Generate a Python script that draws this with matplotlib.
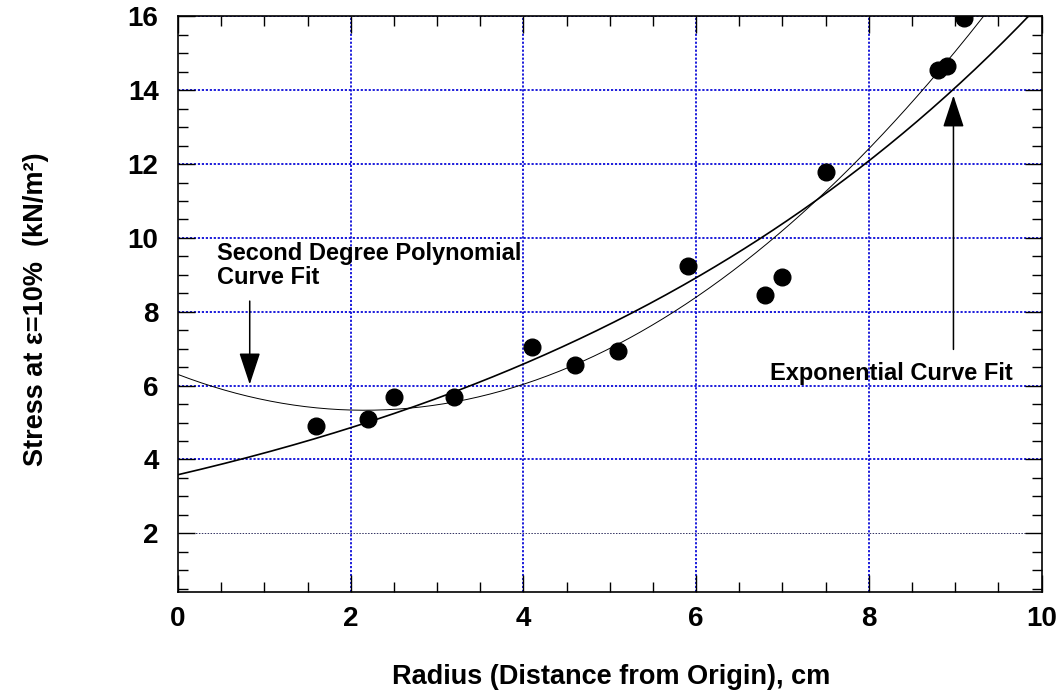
import numpy as np
import matplotlib
matplotlib.use("Agg")
import matplotlib.pyplot as plt
from matplotlib.ticker import MultipleLocator

radius = [1.6, 2.2, 2.5, 3.2, 4.1, 4.6, 5.1, 5.9, 6.8, 7.0, 7.5, 8.8, 8.9, 9.1]
stress = [4.9, 5.1, 5.7, 5.7, 7.05, 6.55, 6.95, 9.25, 8.45, 8.95, 11.8, 14.55, 14.65, 15.95]

x_ticks = [0, 2, 4, 6, 8, 10]
y_ticks = [2, 4, 6, 8, 10, 12, 14, 16]

poly_label = "Second Degree Polynomial\nCurve Fit"
exp_label = "Exponential Curve Fit"
x_title = "Radius (Distance from Origin), cm"
y_title = "Stress at \u03b5=10%  (kN/m\u00b2)"

plt.rcParams['font.family'] = ['Liberation Sans', 'DejaVu Sans']
plt.rcParams['font.weight'] = 'bold'

fig = plt.figure(figsize=(10.63, 6.98), dpi=100)
ax = fig.add_axes([0.1675, 0.1514, 0.8123, 0.8250])

xs = np.array(radius)
ys = np.array(stress)

# fitted curves (least squares on the points)
c2, c1, c0 = np.polyfit(xs, ys, 2)
b, ln_a = np.polyfit(xs, np.log(ys), 1)
xx = np.linspace(0, 10, 300)
ax.plot(xx, c0 + c1 * xx + c2 * xx ** 2, color='black', lw=0.7, zorder=3)
ax.plot(xx, np.exp(ln_a) * np.exp(b * xx), color='black', lw=1.2, zorder=3)

ax.plot(xs, ys, 'o', color='black', ms=12, zorder=4)

# grid
grid_blue = '#0a0ad8'
for gx in x_ticks[1:-1]:
    ax.axvline(gx, color=grid_blue, lw=1.3, ls=(0, (1.2, 1.0)), zorder=1)
for gy in y_ticks:
    if gy == 2:
        ax.axhline(gy, color='#303060', lw=0.7, ls=(0, (1.5, 1.5)), zorder=1)
    else:
        ax.axhline(gy, color=grid_blue, lw=1.3, ls=(0, (1.2, 1.0)), zorder=1)

ax.set_xlim(0, 10)
ax.set_ylim(0.4, 16)
ax.set_xticks(x_ticks)
ax.set_yticks(y_ticks)
ax.xaxis.set_minor_locator(MultipleLocator(0.5))
ax.yaxis.set_minor_locator(MultipleLocator(0.5))
ax.tick_params(which='both', direction='in', top=True, right=True,
               labelsize=20, width=1)
ax.tick_params(which='major', length=12.5)
ax.tick_params(which='minor', length=7)
ax.tick_params(axis='x', pad=10)
ax.tick_params(axis='y', pad=14)
for s in ax.spines.values():
    s.set_linewidth(1.2)

# annotations
ax.text(0.45, 9.9, poly_label, fontsize=17, fontweight='bold',
        va='top', ha='left', linespacing=1.05)
ax.annotate('', xy=(0.83, 6.03), xytext=(0.83, 8.29),
            arrowprops=dict(arrowstyle='-|>,head_length=1.0,head_width=0.33',
                            color='black', lw=1.1, shrinkA=0, shrinkB=0,
                            mutation_scale=20))
ax.text(8.26, 6.34, exp_label, fontsize=17, fontweight='bold',
        va='center', ha='center')
ax.annotate('', xy=(8.98, 13.86), xytext=(8.98, 6.98),
            arrowprops=dict(arrowstyle='-|>,head_length=1.0,head_width=0.33',
                            color='black', lw=1.1, shrinkA=0, shrinkB=0,
                            mutation_scale=20))

fig.text(611 / 1063, 1 - 677 / 698, x_title, fontsize=19.5, fontweight='bold',
         ha='center', va='center')
fig.text(36 / 1063, 1 - 309 / 698, y_title, fontsize=19.5, fontweight='bold',
         ha='center', va='center', rotation=90)

fig.savefig("out.png", dpi=100)
